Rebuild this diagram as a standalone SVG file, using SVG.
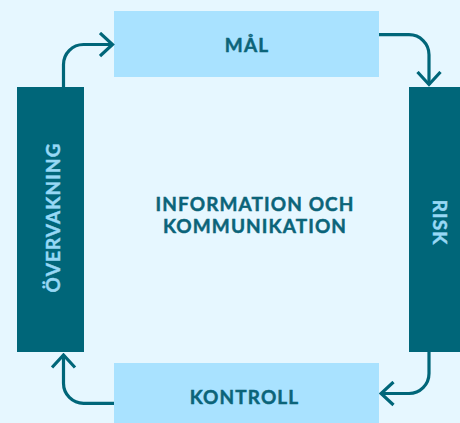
<svg xmlns="http://www.w3.org/2000/svg" width="460" height="423" viewBox="0 0 460 423">
<style>
.light{fill:#A9E2FF}
.dark{fill:#006679}
.t{font-family:Lato,"Liberation Sans",sans-serif;font-weight:700;font-size:19px;letter-spacing:1.1px;text-anchor:middle;stroke-width:0.45px}
.td{fill:#0B6479;stroke:#0B6479}
.tl{fill:#97D8F5;stroke:#97D8F5}
.c{fill:none;stroke:#006679;stroke-width:3.2;stroke-linecap:butt;stroke-linejoin:miter}
</style>
<defs>
<marker id="ah" viewBox="-14 -13 16 26" markerWidth="16" markerHeight="26" refX="0" refY="0" orient="auto" markerUnits="userSpaceOnUse">
<path d="M-12.5,-11.5 L0,0 L-12.5,11.5" fill="none" stroke="#006679" stroke-width="3.2"/>
</marker>
</defs>
<rect width="460" height="423" fill="#E6F7FF"/>
<g id="mal">
<rect class="light" x="114" y="11" width="265" height="66"/>
<text class="t td" x="247" y="52">MÅL</text>
</g>
<g id="risk">
<rect class="dark" x="409" y="87" width="67" height="265"/>
<text class="t tl" transform="translate(433,222) rotate(90)" x="0.6" y="0">RISK</text>
</g>
<g id="kontroll">
<rect class="light" x="114" y="363" width="265" height="66"/>
<text class="t td" x="244.5" y="404">KONTROLL</text>
</g>
<g id="overvakning">
<rect class="dark" x="17" y="87" width="67" height="265"/>
<text class="t tl" transform="translate(60,218) rotate(-90)" x="0.6" y="0">ÖVERVAKNING</text>
</g>
<g id="center">
<text class="t td" x="255" y="211">INFORMATION OCH</text>
<text class="t td" x="255" y="233">KOMMUNIKATION</text>
</g>
<g id="connectors">
<path class="c" d="M63.5,87 V64.5 A20,20 0 0 1 83.5,44.5 H112.5" marker-end="url(#ah)"/>
<path class="c" d="M379,34.7 H409 A20,20 0 0 1 429,54.7 V84.5" marker-end="url(#ah)"/>
<path class="c" d="M429,352 V373.5 A20,20 0 0 1 409,393.5 H381" marker-end="url(#ah)"/>
<path class="c" d="M114,403.3 H83.5 A20,20 0 0 1 63.5,383.3 V355" marker-end="url(#ah)"/>
</g>
</svg>
